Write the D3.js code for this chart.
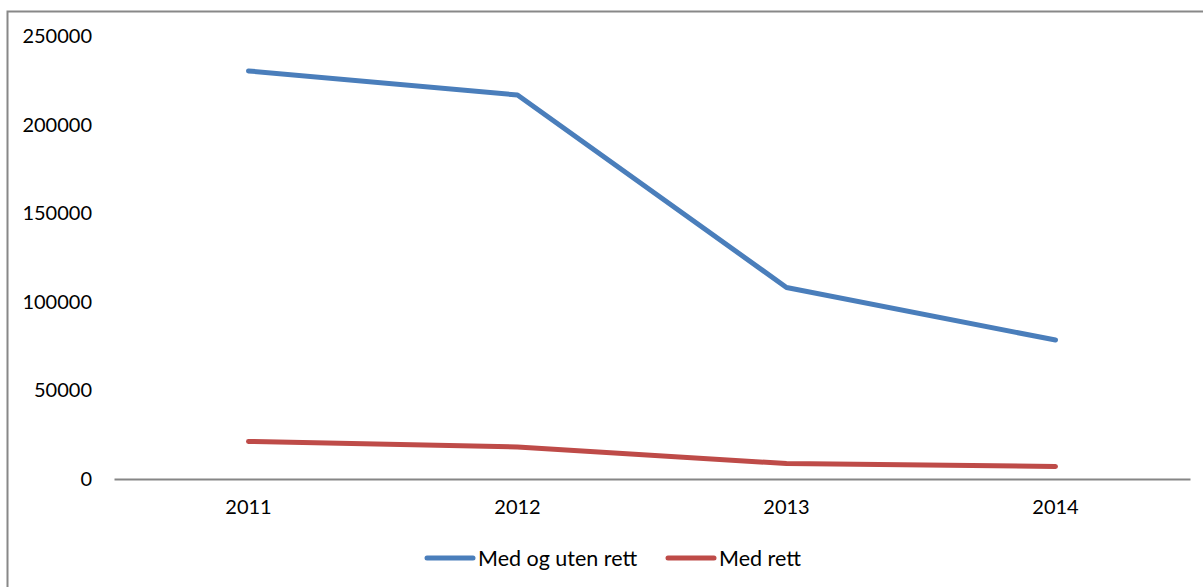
<!DOCTYPE html>
<html>
<head>
<meta charset="utf-8">
<script src="https://cdn.jsdelivr.net/npm/d3@7"></script>
<style>
  body { margin: 0; background: #fff; }
  text { font-family: Lato, "Open Sans", sans-serif; fill: #000; }
</style>
</head>
<body>
<div id="chart"></div>
<script>
// Data
var years = ['2011', '2012', '2013', '2014'];
var medOgUtenRett = [230300, 216700, 108100, 78400];
var medRett = [21200, 18100, 8700, 7100];
var yTicks = [0, 50000, 100000, 150000, 200000, 250000];
var seriesNames = ['Med og uten rett', 'Med rett'];
var colors = ['#4a7ebb', '#be4b48'];

var width = 1203, height = 587;
var margin = { left: 114, right: 13, top: 36, bottom: 108 };

var svg = d3.select('#chart').append('svg')
    .attr('width', width)
    .attr('height', height);

// outer frame
svg.append('rect')
    .attr('x', 7.5).attr('y', 11.5)
    .attr('width', width).attr('height', height)
    .attr('fill', 'none')
    .attr('stroke', '#888')
    .attr('stroke-width', 2);

var x = d3.scaleBand()
    .domain(years)
    .range([margin.left, width - margin.right]);

var y = d3.scaleLinear()
    .domain([0, 250000])
    .range([height - margin.bottom, margin.top]);

// y labels (no axis line)
svg.append('g')
    .selectAll('text')
    .data(yTicks)
    .enter().append('text')
    .attr('x', 92)
    .attr('y', function(d) { return y(d); })
    .attr('dy', '0.35em')
    .attr('text-anchor', 'end')
    .style('font-size', '20px')
    .text(function(d) { return d; });

// x axis
var xAxis = svg.append('g')
    .attr('transform', 'translate(0,' + y(0) + ')')
    .call(d3.axisBottom(x).tickSize(0).tickPadding(21));
xAxis.select('.domain').attr('stroke', '#868686').attr('stroke-width', 2);
xAxis.selectAll('text')
    .style('font-size', '20px')
    .style('font-family', 'Lato, sans-serif');

var line = d3.line()
    .x(function(d, i) { return x(years[i]) + x.bandwidth() / 2; })
    .y(function(d) { return y(d); });

[medOgUtenRett, medRett].forEach(function(s, i) {
  svg.append('path')
      .datum(s)
      .attr('d', line)
      .attr('fill', 'none')
      .attr('stroke', colors[i])
      .attr('stroke-width', 5)
      .attr('stroke-linecap', 'round')
      .attr('stroke-linejoin', 'round');
});

// legend
var legendX = [427, 668];
var legend = svg.append('g');
seriesNames.forEach(function(name, i) {
  legend.append('line')
      .attr('x1', legendX[i]).attr('x2', legendX[i] + 46)
      .attr('y1', 558).attr('y2', 558)
      .attr('stroke', colors[i])
      .attr('stroke-width', 5)
      .attr('stroke-linecap', 'round');
  legend.append('text')
      .attr('x', legendX[i] + 51)
      .attr('y', 558)
      .attr('dy', '0.35em')
      .style('font-size', '21.5px')
      .text(name);
});
</script>
</body>
</html>
